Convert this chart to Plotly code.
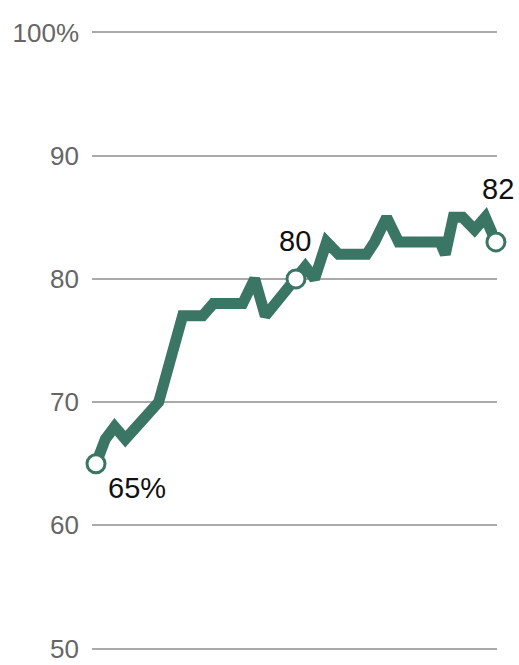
import plotly.graph_objects as go

years = [1990.0, 1990.7, 1991.4, 1992.2, 1994.7, 1995.7, 1996.5, 1998.0, 1998.8,
         2001.0, 2001.9, 2002.7, 2005.0, 2005.7, 2006.4, 2007.3, 2008.2, 2010.3,
         2010.9, 2011.8, 2012.7, 2015.8, 2016.2, 2016.8, 2017.5, 2018.4, 2019.2, 2020.0]
values = [65, 67, 68, 67, 70, 74, 77, 77, 78,
          78, 80, 77, 80, 81, 80, 83, 82, 82,
          83, 85, 83, 83, 82, 85, 85, 84, 85, 83]
marked_idx = [0, 12, 27]
label_texts = ["65%", "80", "82"]
tick_vals = [50, 60, 70, 80, 90, 100]
tick_text = ["50", "60", "70", "80", "90", "100%"]

GREEN = "#3a7663"

fig = go.Figure()
fig.add_trace(go.Scatter(
    x=years, y=values, mode="lines",
    line=dict(color=GREEN, width=11), hoverinfo="skip", showlegend=False,
    cliponaxis=False))
fig.add_trace(go.Scatter(
    x=[years[i] for i in marked_idx], y=[values[i] for i in marked_idx],
    mode="markers", cliponaxis=False, hoverinfo="skip",
    marker=dict(size=18, color="white", line=dict(color=GREEN, width=3)),
    showlegend=False))

# label anchors: (data point index, y position, x pixel shift)
label_anchor = [(0, 63.0, 41), (12, 83.1, -1), (27, 87.3, 2)]
for (i, ly, dx), t in zip(label_anchor, label_texts):
    fig.add_annotation(x=years[i], y=ly, text=t, showarrow=False, xshift=dx,
                       font=dict(size=29, color="#111111", family="Liberation Sans, Arial"),
                       xanchor="center", yanchor="middle")

fig.update_layout(
    width=519, height=665,
    margin=dict(l=92, r=22, t=29.6, b=13.5, pad=0, autoexpand=False),
    plot_bgcolor="white", paper_bgcolor="white",
    xaxis=dict(range=[1989.7, 2020.08], visible=False, showgrid=False, zeroline=False,
               automargin=False),
    yaxis=dict(range=[49.8, 100.2], tickvals=tick_vals, ticktext=tick_text,
               showgrid=True, gridcolor="#aaaaaa", gridwidth=1.5, zeroline=False,
               showline=False, ticks="", ticklabelstandoff=12, automargin=False,
               ticklabeloverflow="allow",
               tickfont=dict(size=26, color="#666666", family="Liberation Sans, Arial")),
)
fig.write_html("out.html", config={"displayModeBar": False},
               post_script="document.body.style.margin='0';document.body.style.overflow='hidden';")
